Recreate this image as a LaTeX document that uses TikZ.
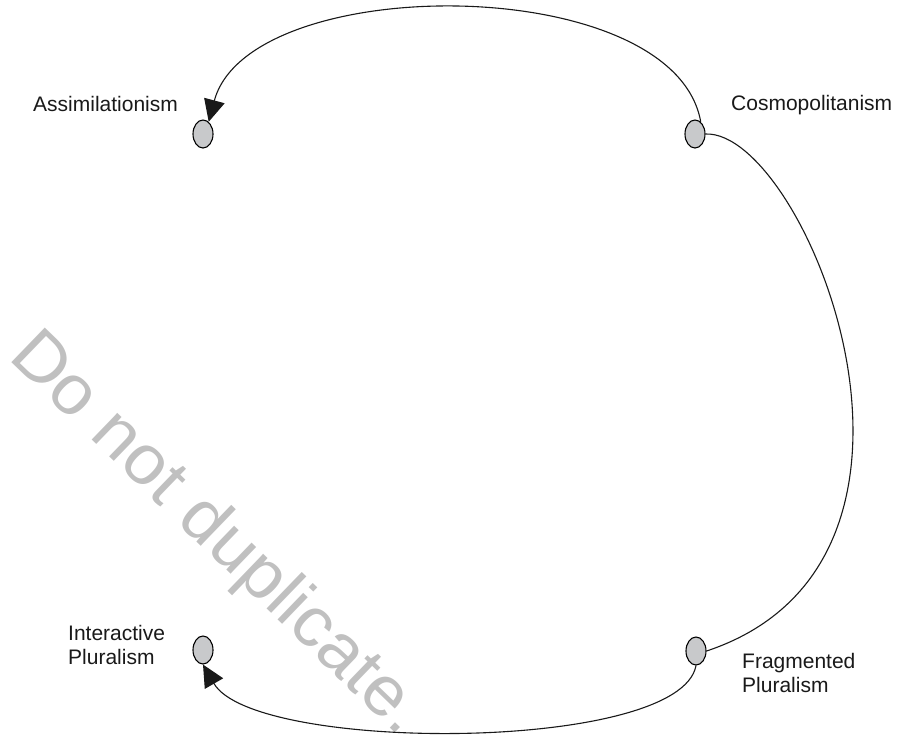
\documentclass[tikz,border=0pt]{standalone}
\usepackage{fontspec}
\usepackage{graphicx}
\setmainfont{Liberation Sans}
\usetikzlibrary{shapes.geometric,arrows.meta}
\definecolor{dotfill}{RGB}{200,201,203}
\definecolor{wmark}{RGB}{192,192,192}
\tikzset{
  dot/.style={ellipse,draw=black,line width=1.1pt,fill=dotfill,minimum width=20pt,minimum height=28pt,inner sep=0pt},
  lbl/.style={font=\fontsize{21}{23.5}\selectfont,inner sep=0pt,align=left,text=black!90},
  link/.style={line width=1.1pt,draw=black!90},
  tip/.style={-{Triangle[length=22pt,width=21pt]}}
}
\begin{document}
\begin{tikzpicture}[x=1pt,y=-1pt]
\useasboundingbox (0,0) rectangle (897,737);
% watermark
\node[font=\fontsize{70}{70}\selectfont,text=wmark,anchor=base west,rotate=-44,inner sep=0pt] (wm) at (7,358) {\scalebox{1.04}[1]{Do not duplicate.}};
% dots
\node[dot] (ass) at (203,134) {};
\node[dot] (cos) at (695,134) {};
\node[dot] (int) at (203,650) {};
\node[dot] (fra) at (696,651) {};
% labels
\node[lbl,anchor=base west] (lass) at (33,111) {Assimilationism};
\node[lbl,anchor=base west] (lcos) at (731,110) {Cosmopolitanism};
\node[lbl,anchor=base west] (lint) at (68,664) {Interactive\\Pluralism};
\node[lbl,anchor=base west] (lfra) at (742,692) {Fragmented\\Pluralism};
% connectors
\draw[link,tip] (cos.65) .. controls (674,-29) and (249,-29) .. (ass.65);
\draw[link] (cos.east) .. controls (805,130) and (980,560) .. (fra.east);
\draw[link,tip] (fra.south) .. controls (680,753) and (254,753) .. (int.south);
\end{tikzpicture}
\end{document}
